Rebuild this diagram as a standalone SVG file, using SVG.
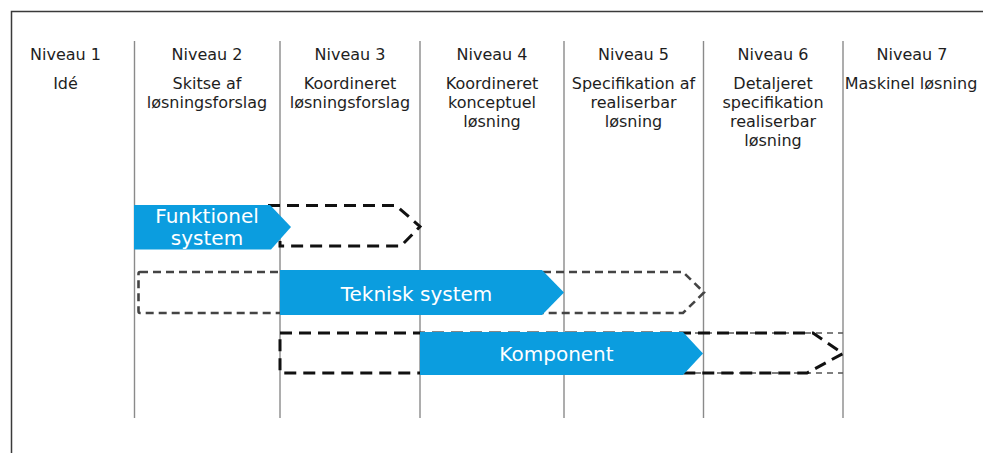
<svg xmlns="http://www.w3.org/2000/svg" width="983" height="453" viewBox="0 0 983 453">
<style>
  .hdr { font-family: "DejaVu Sans", Verdana, sans-serif; font-size: 16px; fill: #1e1e1e; text-anchor: middle; }
  .lbl { font-family: "DejaVu Sans", Verdana, sans-serif; font-size: 20px; fill: #ffffff; text-anchor: middle; }
  .grid { stroke: #8a8a8a; stroke-width: 1.4; fill: none; }
  .frame { stroke: #3a3a3a; stroke-width: 1.5; fill: none; }
  .bar { fill: #0b9ddf; }
  .dashBlack { fill: none; stroke: #111; stroke-width: 3; stroke-dasharray: 12 7; }
  .dashGray { fill: none; stroke: #444; stroke-width: 2.6; stroke-dasharray: 8 5; }
  .dashThin { fill: none; stroke: #555; stroke-width: 1.6; stroke-dasharray: 6 5; }
</style>
<rect x="0" y="0" width="983" height="453" fill="#ffffff"/>
<g id="frame">
  <path class="frame" d="M11.5 453 V11.5 H983"/>
</g>
<g id="grid">
  <line class="grid" x1="134.5" y1="41" x2="134.5" y2="418"/>
  <line class="grid" x1="280" y1="41" x2="280" y2="418"/>
  <line class="grid" x1="420" y1="41" x2="420" y2="418"/>
  <line class="grid" x1="564" y1="41" x2="564" y2="418"/>
  <line class="grid" x1="703.5" y1="41" x2="703.5" y2="418"/>
  <line class="grid" x1="843" y1="41" x2="843" y2="418"/>
</g>
<g id="niveau1">
  <text class="hdr" x="65.5" y="59.5">Niveau 1</text>
  <text class="hdr" x="65.5" y="89">Idé</text>
</g>
<g id="niveau2">
  <text class="hdr" x="207" y="59.5">Niveau 2</text>
  <text class="hdr" x="207" y="89">Skitse af</text>
  <text class="hdr" x="207" y="108">løsningsforslag</text>
</g>
<g id="niveau3">
  <text class="hdr" x="350" y="59.5">Niveau 3</text>
  <text class="hdr" x="350" y="89">Koordineret</text>
  <text class="hdr" x="350" y="108">løsningsforslag</text>
</g>
<g id="niveau4">
  <text class="hdr" x="492" y="59.5">Niveau 4</text>
  <text class="hdr" x="492" y="89">Koordineret</text>
  <text class="hdr" x="492" y="108">konceptuel</text>
  <text class="hdr" x="492" y="127">løsning</text>
</g>
<g id="niveau5">
  <text class="hdr" x="633.5" y="59.5">Niveau 5</text>
  <text class="hdr" x="633.5" y="89">Specifikation af</text>
  <text class="hdr" x="633.5" y="108">realiserbar</text>
  <text class="hdr" x="633.5" y="127">løsning</text>
</g>
<g id="niveau6">
  <text class="hdr" x="773" y="59.5">Niveau 6</text>
  <text class="hdr" x="773" y="89">Detaljeret</text>
  <text class="hdr" x="773" y="108">specifikation</text>
  <text class="hdr" x="773" y="127">realiserbar</text>
  <text class="hdr" x="773" y="146">løsning</text>
</g>
<g id="niveau7">
  <text class="hdr" x="912" y="59.5">Niveau 7</text>
  <text class="hdr" x="911" y="89">Maskinel løsning</text>
</g>
<g id="funktionel-system">
  <path class="dashBlack" d="M268 205.5 H396 L420 226.5 L401 246 H280 V241"/>
  <path class="bar" d="M134 205 H270 L291 227 L271 249.5 H134 Z"/>
  <text class="lbl" x="207" y="222.5">Funktionel</text>
  <text class="lbl" x="207" y="245">system</text>
</g>
<g id="teknisk-system">
  <path class="dashGray" d="M140 272 H683 L704 292.5 L683 313 H140 Q138.5 313 138.5 311 V274 Q138.5 272 140 272 Z"/>
  <path class="bar" d="M280 270 H542 L564 292.5 L542 315 H280 Z"/>
  <text class="lbl" x="416.5" y="301">Teknisk system</text>
</g>
<g id="komponent">
  <path class="dashThin" d="M420 333 H843 M420 373 H843"/>
  <path class="dashBlack" d="M280 333 H813 L843 353.5 L807 373 H280 Z"/>
  <path class="bar" d="M420 332 H683 L703 353.5 L683 375 H420 Z"/>
  <text class="lbl" x="556.5" y="361">Komponent</text>
</g>
<g id="connectors"></g>
</svg>
